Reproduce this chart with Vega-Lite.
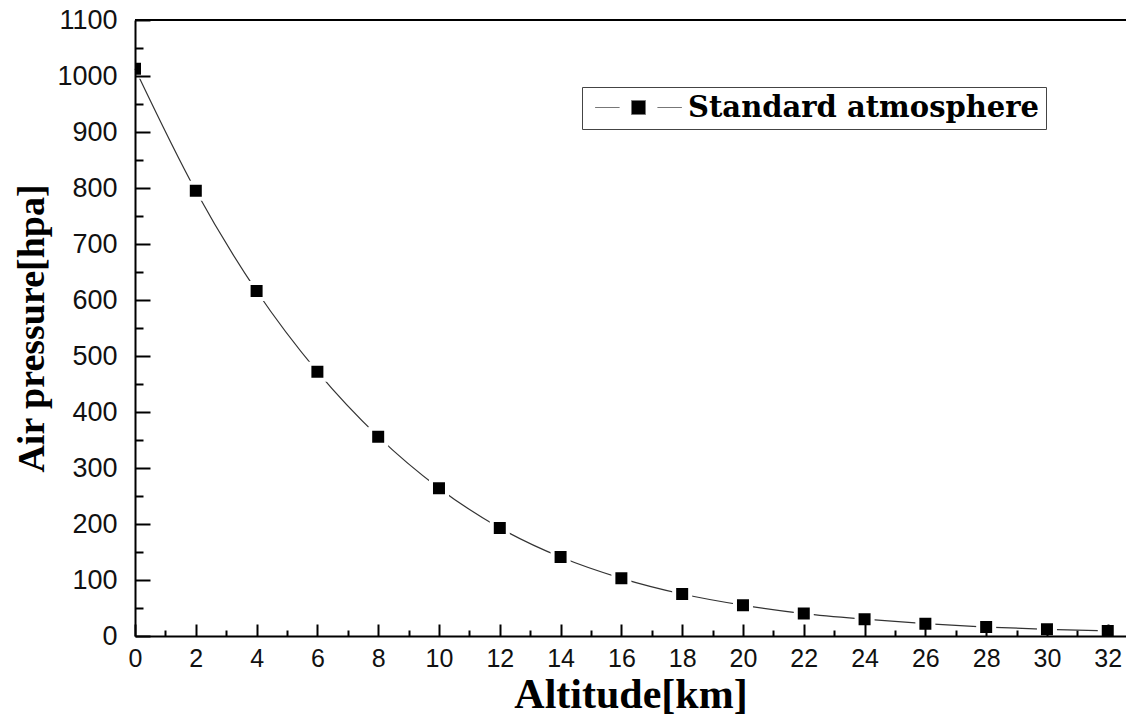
{
  "$schema": "https://vega.github.io/schema/vega-lite/v6.json",
  "width": 991,
  "height": 616,
  "autosize": {"type": "none"},
  "padding": {"left": 135, "top": 20, "right": 0, "bottom": 81},
  "background": "white",
  "config": {"view": {"stroke": null}},
  "data": {
    "values": [
      {"altitude": 0, "pressure": 1013, "series": "Standard atmosphere"},
      {"altitude": 2, "pressure": 795, "series": "Standard atmosphere"},
      {"altitude": 4, "pressure": 616, "series": "Standard atmosphere"},
      {"altitude": 6, "pressure": 472, "series": "Standard atmosphere"},
      {"altitude": 8, "pressure": 356, "series": "Standard atmosphere"},
      {"altitude": 10, "pressure": 264, "series": "Standard atmosphere"},
      {"altitude": 12, "pressure": 193, "series": "Standard atmosphere"},
      {"altitude": 14, "pressure": 141, "series": "Standard atmosphere"},
      {"altitude": 16, "pressure": 103, "series": "Standard atmosphere"},
      {"altitude": 18, "pressure": 75, "series": "Standard atmosphere"},
      {"altitude": 20, "pressure": 55, "series": "Standard atmosphere"},
      {"altitude": 22, "pressure": 40, "series": "Standard atmosphere"},
      {"altitude": 24, "pressure": 30, "series": "Standard atmosphere"},
      {"altitude": 26, "pressure": 22, "series": "Standard atmosphere"},
      {"altitude": 28, "pressure": 16, "series": "Standard atmosphere"},
      {"altitude": 30, "pressure": 12, "series": "Standard atmosphere"},
      {"altitude": 32, "pressure": 9, "series": "Standard atmosphere"}
    ]
  },
  "layer": [
    {
      "mark": {"type": "rule", "color": "black", "strokeWidth": 2},
      "encoding": {
        "y": {"datum": 1100, "type": "quantitative", "axis": null}
      }
    },
    {
      "mark": {"type": "line", "interpolate": "monotone", "color": "#333", "strokeWidth": 1.2},
      "encoding": {
        "x": {
          "field": "altitude", "type": "quantitative",
          "scale": {"domain": [0, 32.6], "nice": false, "zero": false},
          "axis": {
            "orient": "bottom", "values": [1, 3, 5, 7, 9, 11, 13, 15, 17, 19, 21, 23, 25, 27, 29, 31],
            "tickSize": -6, "tickWidth": 2, "tickColor": "black",
            "labels": false, "domain": false, "grid": false, "title": null
          }
        },
        "y": {
          "field": "pressure", "type": "quantitative",
          "scale": {"domain": [0, 1100], "nice": false},
          "axis": {
            "orient": "left", "values": [50, 150, 250, 350, 450, 550, 650, 750, 850, 950, 1050],
            "tickSize": -8, "tickWidth": 2, "tickColor": "black",
            "labels": false, "domain": false, "grid": false, "title": null
          }
        }
      }
    },
    {
      "mark": {"type": "point", "shape": "square", "filled": true, "size": 256, "clip": true, "stroke": "white", "strokeWidth": 4, "opacity": 1},
      "encoding": {
        "x": {
          "field": "altitude", "type": "quantitative",
          "axis": {
            "orient": "bottom", "values": [0, 2, 4, 6, 8, 10, 12, 14, 16, 18, 20, 22, 24, 26, 28, 30, 32],
            "format": "d",
            "tickSize": -12, "tickWidth": 2, "tickColor": "black",
            "domain": true, "domainColor": "black", "domainWidth": 2, "grid": false, "zindex": 1,
            "labelFont": "Liberation Sans", "labelFontSize": 25, "labelColor": "#111", "labelPadding": 22,
            "labelFlush": false, "labelOverlap": false,
            "title": "Altitude[km]", "titleFont": "Liberation Serif", "titleFontWeight": "bold",
            "titleFontSize": 42, "titleColor": "black", "titlePadding": 3
          }
        },
        "y": {
          "field": "pressure", "type": "quantitative",
          "axis": {
            "orient": "left", "values": [0, 100, 200, 300, 400, 500, 600, 700, 800, 900, 1000, 1100],
            "format": "d",
            "tickSize": -15, "tickWidth": 2, "tickColor": "black",
            "domain": true, "domainColor": "black", "domainWidth": 2, "grid": false, "zindex": 1,
            "labelFont": "Liberation Sans", "labelFontSize": 27, "labelColor": "#111", "labelPadding": 33,
            "labelFlush": false, "labelOverlap": false,
            "title": "Air pressure[hpa]", "titleFont": "Liberation Serif", "titleFontWeight": "bold",
            "titleFontSize": 38, "titleColor": "black", "titlePadding": 5
          }
        },
        "color": {
          "field": "series", "type": "nominal",
          "scale": {"range": ["black"]},
          "legend": {
            "orient": "none", "legendX": 447, "legendY": 67, "title": null,
            "strokeColor": "#444", "padding": 6,
            "symbolType": "M-6.2,0H-2.7M2.7,0H6.2M-1,-1H1V1H-1Z",
            "symbolSize": 196, "symbolOffset": 36, "labelOffset": 35,
            "symbolFillColor": "black", "symbolStrokeColor": "#777", "symbolStrokeWidth": 1,
            "labelFont": "DejaVu Serif", "labelFontWeight": "bold", "labelFontSize": 29,
            "labelColor": "black", "labelLimit": 0,
            "encode": {
              "symbols": {
                "update": {
                  "shape": {"value": "M-6.2,0H-2.7M2.7,0H6.2M-1,-1H1V1H-1Z"},
                  "fill": {"value": "black"},
                  "fillOpacity": {"value": 1},
                  "stroke": {"value": "#777"},
                  "strokeOpacity": {"value": 1},
                  "strokeWidth": {"value": 1},
                  "size": {"value": 196},
                  "opacity": {"value": 1}
                }
              }
            }
          }
        }
      }
    }
  ],
  "resolve": {"axis": {"x": "independent", "y": "independent"}}
}
